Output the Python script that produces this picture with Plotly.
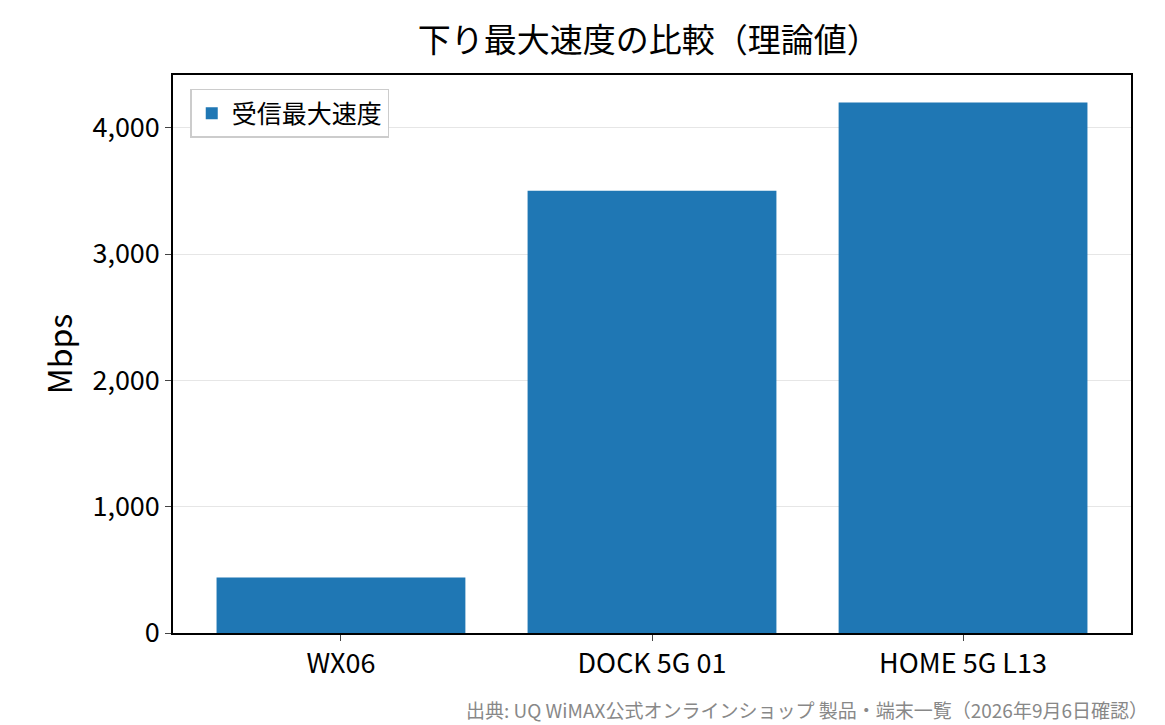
import plotly.graph_objects as go

models = ["WX06", "DOCK 5G 01", "HOME 5G L13"]
speeds = [440, 3500, 4200]
tick_vals = [0, 1000, 2000, 3000, 4000]
tick_text = ["0", "1,000", "2,000", "3,000", "4,000"]

font = "Noto Sans CJK JP"

fig = go.Figure()
fig.add_bar(x=models, y=speeds, name="受信最大速度", marker_color="#1f77b4",
            marker_line_width=0, width=0.8, showlegend=True)

fig.update_layout(
    width=1165, height=725,
    margin=dict(l=165, r=42, t=67, b=100),
    paper_bgcolor="white", plot_bgcolor="white",
    font=dict(family=font, size=27, color="black"),
    title=dict(text="下り最大速度の比較（理論値）", x=0.55, xanchor="center",
               y=0.955, yanchor="middle", font=dict(size=33)),
    legend=dict(x=0.018, y=0.975, xanchor="left", yanchor="top",
                bordercolor="#cccccc", borderwidth=1.5, font=dict(size=25)),
    bargap=0.2,
)
fig.update_xaxes(range=[-0.54, 2.54], showline=True, linecolor="black",
                 linewidth=1.5, mirror=True, ticks="outside", ticklen=6,
                 automargin=False)
fig.update_yaxes(range=[0, 4417], tickvals=tick_vals, ticktext=tick_text,
                 showline=True, linecolor="black", linewidth=1.5, mirror=True,
                 ticks="outside", ticklen=6, showgrid=True, gridcolor="#e6e6e6",
                 zeroline=False, automargin=False,
                 title=dict(text="Mbps", standoff=10))
fig.add_annotation(text="出典: UQ WiMAX公式オンラインショップ 製品・端末一覧（2026年9月6日確認）",
                   xref="paper", yref="paper", x=1.02, y=-0.11, xanchor="right",
                   yanchor="top", showarrow=False,
                   font=dict(size=19, color="#888888"))
fig.write_html("out.html")
